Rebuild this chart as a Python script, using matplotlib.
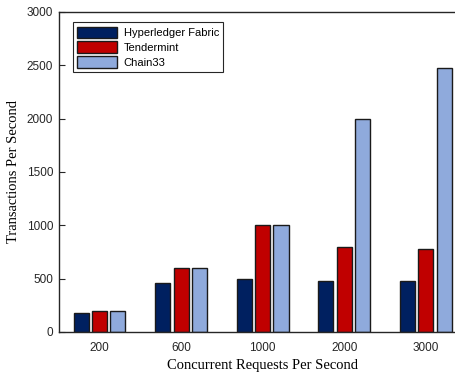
import numpy as np
import matplotlib.pyplot as plt

groups = ['200', '600', '1000', '2000', '3000']
fabric = [180, 460, 500, 480, 480]
tendermint = [200, 600, 1000, 800, 780]
chain33 = [200, 600, 1000, 2000, 2470]

series = [('Hyperledger Fabric', fabric, '#002060'),
          ('Tendermint', tendermint, '#C00000'),
          ('Chain33', chain33, '#8FAADC')]

fig = plt.figure(figsize=(4.56, 3.74), dpi=100)
ax = fig.add_axes([0.129, 0.1123, 0.894, 0.856])

x = np.arange(1, len(groups) + 1)
w = 0.184
step = 0.225
for i, (name, vals, col) in enumerate(series):
    ax.bar(x + (i - 1) * step, vals, w, color=col, edgecolor='#1a1a1a',
           linewidth=1.0, label=name, zorder=2)

ax.set_xlim(0.5, 5.5)
ax.set_ylim(0, 3000)
ax.set_xticks(x)
ax.set_xticklabels(groups)
ax.set_yticks(np.arange(0, 3001, 500))
ax.tick_params(direction='in', length=4, width=0.8, labelsize=8.5,
               colors='#262626')
ax.tick_params(axis='x', pad=7)
ax.tick_params(axis='y', pad=4)
for lab in ax.get_xticklabels() + ax.get_yticklabels():
    lab.set_fontfamily('Liberation Sans')
for s in ax.spines.values():
    s.set_linewidth(1.0)
    s.set_color('#262626')

ax.set_xlabel('Concurrent Requests Per Second', fontfamily='Liberation Serif',
              fontsize=10.5, labelpad=4)
ax.set_ylabel('Transactions Per Second', fontfamily='Liberation Serif',
              fontsize=10.5, labelpad=5)

leg = ax.legend(loc='upper left', bbox_to_anchor=(0.02, 0.985),
                prop={'family': 'Liberation Sans', 'size': 8},
                fancybox=False, edgecolor='#262626', framealpha=1,
                handlelength=3.6, handleheight=1.2, borderpad=0.4,
                labelspacing=0.3, handletextpad=0.6)
leg.get_frame().set_linewidth(0.8)

fig.savefig('out.png', dpi=100)
